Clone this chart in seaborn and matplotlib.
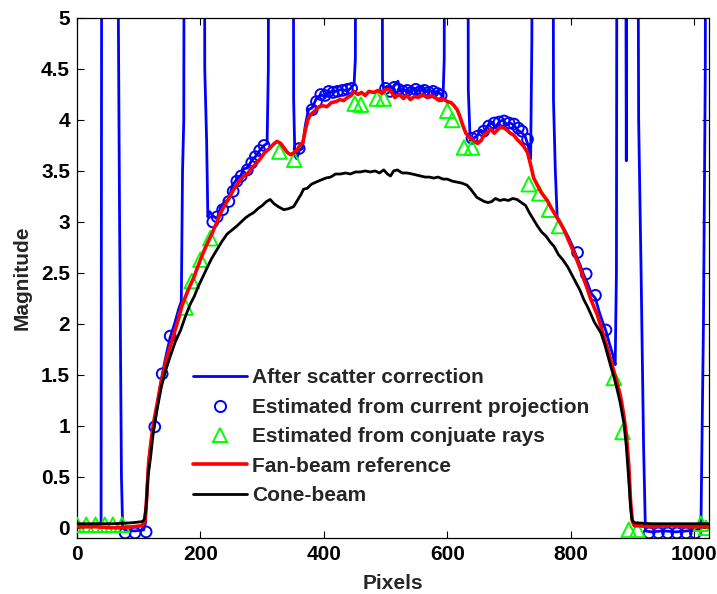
import numpy as np
import pandas as pd
import matplotlib
matplotlib.use("Agg")
import matplotlib.pyplot as plt
from matplotlib.lines import Line2D
from matplotlib.ticker import FuncFormatter, MultipleLocator
import seaborn as sns

# ---------------- data ----------------
OFF = 12.0  # values beyond the top of the axis (clipped spikes)

scatter_x = [0, 20, 36, 39, 41, 64, 66, 69, 72, 74, 80, 95, 108, 111, 113, 116, 120,
             126, 132, 138, 144, 151, 158, 165, 169, 171, 173, 175, 205, 207, 210,
             212, 215, 220, 227, 233, 240, 246, 252, 259, 265, 270, 276, 283, 289,
             296, 303, 308, 310, 312, 349, 351, 353, 356, 360, 365, 370, 375, 381,
             387, 395, 402, 408, 415, 422, 430, 438, 445, 449, 451, 453, 493, 495,
             497, 502, 508, 515, 520, 524, 530, 537, 543, 550, 557, 563, 570, 577,
             584, 590, 593, 595, 597, 632, 634, 637, 642, 648, 654, 660, 666, 672,
             678, 684, 690, 696, 702, 708, 714, 720, 726, 731, 735, 737, 739, 770,
             772, 775, 778, 784, 790, 797, 803, 808, 815, 821, 827, 833, 840, 846,
             851, 857, 863, 868, 872, 874, 876, 887, 890, 893, 906, 910, 914, 918,
             921, 930, 950, 970, 990, 1008, 1011, 1015, 1018, 1020, 1024]
scatter_y = [0.03, 0.03, 0.04, 0.05, OFF, OFF, 6.0, 3.0, 0.5, 0.0, -0.03, -0.03, -0.02,
             0.05, 0.35, 0.65, 0.85, 1.02, 1.28, 1.50, 1.68, 1.87, 2.00, 2.15, 2.22,
             3.50, 4.00, OFF, OFF, 4.50, 3.80, 3.05, 3.10, 3.06, 3.03, 3.15, 3.20,
             3.22, 3.36, 3.42, 3.45, 3.52, 3.53, 3.60, 3.64, 3.70, 3.75, 3.77, 4.50,
             OFF, OFF, 4.20, 3.65, 3.62, 3.70, 3.72, 3.95, 4.10, 4.12, 4.20, 4.25,
             4.22, 4.28, 4.27, 4.29, 4.30, 4.28, 4.32, 4.35, 4.60, OFF, OFF, 4.40,
             4.30, 4.33, 4.28, 4.35, 4.38, 4.28, 4.30, 4.26, 4.31, 4.28, 4.33, 4.27,
             4.30, 4.27, 4.28, 4.25, 4.22, 4.60, OFF, OFF, 4.30, 3.80, 3.82, 3.84,
             3.90, 3.88, 3.95, 3.97, 3.93, 3.98, 4.00, 3.96, 3.97, 3.95, 3.90, 3.88,
             3.84, 3.75, 3.62, 4.80, OFF, OFF, 4.20, 3.50, 3.05, 2.98, 2.92, 2.84,
             2.76, 2.68, 2.58, 2.48, 2.40, 2.30, 2.25, 2.12, 2.03, 1.93, 1.80, 1.70,
             1.60, 2.50, OFF, OFF, 3.60, OFF, OFF, 4.00, 2.50, 0.80, -0.03, -0.04,
             -0.03, -0.04, -0.03, -0.02, 0.05, 2.00, 4.50, OFF, OFF]

current_x = [78, 94, 112, 126, 138, 151, 220, 227, 236, 246, 253, 259, 266, 276, 283,
             289, 296, 303, 360, 381, 388, 395, 402, 408, 415, 422, 430, 438, 445,
             500, 507, 514, 521, 528, 535, 542, 549, 556, 563, 570, 577, 584, 590,
             640, 649, 659, 667, 676, 684, 692, 700, 708, 715, 721, 730, 811, 825,
             840, 857, 927, 942, 957, 972, 987, 1002]
current_y = [-0.05, -0.05, -0.04, 0.99, 1.51, 1.88, 3.00, 3.05, 3.12, 3.20, 3.30, 3.40,
             3.45, 3.51, 3.58, 3.64, 3.70, 3.75, 3.72, 4.10, 4.18, 4.25, 4.24, 4.28,
             4.27, 4.28, 4.29, 4.30, 4.31, 4.31, 4.28, 4.32, 4.30, 4.28, 4.29, 4.27,
             4.30, 4.28, 4.29, 4.27, 4.28, 4.26, 4.24, 3.82, 3.84, 3.89, 3.94, 3.97,
             3.98, 3.99, 3.97, 3.96, 3.92, 3.89, 3.81, 2.70, 2.49, 2.28, 1.94, -0.05,
             -0.05, -0.05, -0.05, -0.05, -0.05]

conj_x = [0, 15, 30, 45, 58, 73, 176, 186, 200, 216, 328, 352, 450, 460, 486, 497,
          600, 608, 627, 640, 732, 749, 765, 781, 870, 884, 894, 908, 1011, 1019]
conj_y = [0.03, 0.03, 0.03, 0.03, 0.03, 0.03, 2.16, 2.42, 2.63, 2.84, 3.69, 3.61,
          4.16, 4.15, 4.21, 4.21, 4.09, 4.00, 3.73, 3.73, 3.37, 3.28, 3.12, 2.96,
          1.47, 0.94, -0.02, -0.02, 0.04, 0.00]

fan_x = [0, 30, 60, 90, 105, 110, 113, 116, 120, 124, 130, 135, 141, 146, 152, 159,
         165, 170, 176, 182, 189, 195, 200, 206, 212, 219, 226, 232, 238, 245, 254,
         262, 270, 276, 283, 290, 297, 304, 312, 318, 324, 330, 336, 341, 346, 352,
         357, 362, 366, 370, 374, 378, 384, 390, 397, 405, 412, 420, 426, 432, 438,
         444, 449, 455, 461, 467, 473, 481, 488, 494, 500, 508, 515, 522, 529, 535,
         540, 547, 553, 560, 567, 573, 580, 587, 593, 600, 606, 611, 616, 620, 625,
         630, 636, 642, 649, 655, 660, 665, 670, 676, 681, 686, 692, 697, 702, 708,
         713, 718, 724, 730, 735, 740, 746, 752, 757, 762, 768, 774, 779, 784, 790,
         795, 800, 805, 811, 816, 821, 826, 832, 838, 843, 848, 854, 860, 865, 870,
         876, 881, 886, 890, 894, 897, 900, 903, 910, 930, 960, 990, 1024]
fan_y = [0.01, 0.01, 0.00, 0.01, 0.02, 0.06, 0.30, 0.63, 0.85, 1.03, 1.22, 1.39,
         1.55, 1.68, 1.80, 1.94, 2.06, 2.18, 2.27, 2.36, 2.45, 2.55, 2.63, 2.72,
         2.80, 2.89, 2.99, 3.08, 3.15, 3.22, 3.32, 3.39, 3.45, 3.47, 3.53, 3.57,
         3.62, 3.68, 3.72, 3.76, 3.79, 3.77, 3.72, 3.68, 3.66, 3.68, 3.71, 3.76,
         3.78, 3.90, 4.00, 4.05, 4.08, 4.12, 4.14, 4.13, 4.17, 4.18, 4.20, 4.19,
         4.22, 4.24, 4.28, 4.25, 4.27, 4.24, 4.28, 4.27, 4.29, 4.26, 4.30, 4.29,
         4.22, 4.25, 4.21, 4.24, 4.20, 4.23, 4.22, 4.25, 4.22, 4.24, 4.22, 4.19,
         4.21, 4.18, 4.17, 4.14, 4.10, 4.04, 3.95, 3.87, 3.83, 3.80, 3.77, 3.80,
         3.86, 3.88, 3.91, 3.87, 3.90, 3.93, 3.92, 3.90, 3.87, 3.85, 3.81, 3.78,
         3.74, 3.68, 3.56, 3.43, 3.36, 3.29, 3.25, 3.21, 3.14, 3.08, 3.03, 2.98,
         2.91, 2.84, 2.77, 2.70, 2.61, 2.53, 2.44, 2.36, 2.25, 2.16, 2.09, 1.99,
         1.87, 1.75, 1.64, 1.53, 1.40, 1.28, 1.10, 0.92, 0.62, 0.25, 0.06, 0.02,
         0.02, 0.01, 0.02, 0.01, 0.01]

cone_x = [0, 30, 60, 90, 105, 109, 112, 115, 119, 123, 126, 131, 137, 144, 151, 159,
          168, 176, 184, 190, 196, 203, 210, 218, 227, 235, 243, 251, 259, 266, 273,
          280, 286, 293, 300, 307, 313, 319, 326, 335, 343, 351, 358, 363, 367, 373,
          380, 387, 395, 403, 411, 419, 427, 435, 443, 451, 459, 467, 475, 483, 490,
          497, 503, 508, 513, 519, 527, 535, 543, 550, 557, 564, 571, 578, 585, 593,
          600, 608, 616, 624, 632, 638, 643, 648, 654, 660, 666, 672, 678, 685, 692,
          699, 706, 713, 720, 727, 733, 739, 746, 753, 760, 767, 773, 780, 787, 795,
          801, 808, 815, 821, 827, 833, 838, 844, 849, 855, 860, 865, 870, 875, 880,
          886, 890, 894, 897, 899, 903, 930, 960, 990, 1024]
cone_y = [0.04, 0.04, 0.04, 0.05, 0.06, 0.08, 0.20, 0.50, 0.68, 0.90, 1.03, 1.20,
          1.39, 1.55, 1.68, 1.82, 1.94, 2.08, 2.20, 2.27, 2.36, 2.45, 2.54, 2.64,
          2.73, 2.81, 2.88, 2.92, 2.96, 3.00, 3.04, 3.07, 3.09, 3.13, 3.16, 3.20,
          3.22, 3.18, 3.15, 3.12, 3.13, 3.15, 3.22, 3.27, 3.32, 3.33, 3.37, 3.39,
          3.41, 3.43, 3.44, 3.47, 3.47, 3.48, 3.47, 3.49, 3.49, 3.50, 3.49, 3.50,
          3.48, 3.51, 3.47, 3.45, 3.50, 3.51, 3.48, 3.48, 3.47, 3.46, 3.45, 3.44,
          3.44, 3.43, 3.44, 3.42, 3.42, 3.40, 3.39, 3.38, 3.36, 3.32, 3.28, 3.24,
          3.22, 3.20, 3.19, 3.20, 3.23, 3.21, 3.22, 3.21, 3.23, 3.22, 3.19, 3.16,
          3.09, 3.03, 2.96, 2.90, 2.86, 2.80, 2.76, 2.68, 2.63, 2.56, 2.49, 2.41,
          2.33, 2.24, 2.17, 2.09, 2.02, 1.96, 1.91, 1.80, 1.69, 1.58, 1.48, 1.36,
          1.23, 1.03, 0.80, 0.47, 0.20, 0.08, 0.05, 0.04, 0.04, 0.04, 0.04]

labels = ["After scatter correction", "Estimated from current projection",
          "Estimated from conjuate rays", "Fan-beam reference", "Cone-beam"]
x_ticks = [0, 200, 400, 600, 800, 1000]

# ---------------- styling ----------------
sns.set_style("ticks")
plt.rcParams["font.family"] = ["Liberation Sans", "DejaVu Sans"]
plt.rcParams["font.weight"] = "bold"
FS = 15

fig = plt.figure(figsize=(7.17, 5.94), dpi=100)
ax = fig.add_axes([77 / 717, 56 / 594, 632 / 717, 520 / 594])

BLUE, GREEN, RED = "#0000ff", "#00ff00", "#ff0000"

sns.lineplot(x=scatter_x, y=scatter_y, ax=ax, color=BLUE, lw=2.0,
             sort=False, estimator=None, zorder=2)
sns.scatterplot(x=current_x, y=current_y, ax=ax, marker="o", s=60,
                facecolors="none", edgecolors=BLUE, linewidths=1.4, zorder=3)
sns.scatterplot(x=conj_x, y=conj_y, ax=ax, marker="^", s=110,
                facecolors="none", edgecolors=GREEN, linewidths=1.4, zorder=4)
sns.lineplot(x=fan_x, y=fan_y, ax=ax, color=RED, lw=2.6,
             sort=False, estimator=None, zorder=5)
sns.lineplot(x=cone_x, y=cone_y, ax=ax, color="black", lw=2.0,
             sort=False, estimator=None, zorder=6)

ax.set_xlim(0, 1024)
ax.set_ylim(-0.1, 5)
ax.set_xticks(x_ticks)
ax.yaxis.set_major_locator(MultipleLocator(0.5))
ax.yaxis.set_major_formatter(FuncFormatter(lambda v, p: f"{v:g}"))
ax.tick_params(direction="in", length=5, width=0.8, top=True, right=True,
               labelsize=FS, pad=5, colors="black")
for lab in ax.get_xticklabels() + ax.get_yticklabels():
    lab.set_fontweight("bold")
for sp in ax.spines.values():
    sp.set_visible(True)
    sp.set_linewidth(0.9)
    sp.set_color("black")

ax.set_xlabel("Pixels", fontsize=FS, fontweight="bold", labelpad=7)
ax.set_ylabel("Magnitude", fontsize=FS, fontweight="bold", labelpad=7)

handles = [
    Line2D([], [], color=BLUE, lw=2.0),
    Line2D([], [], color=BLUE, marker="o", ls="none", mfc="none", ms=8, mew=1.4),
    Line2D([], [], color=GREEN, marker="^", ls="none", mfc="none", ms=10, mew=1.4),
    Line2D([], [], color=RED, lw=2.6),
    Line2D([], [], color="black", lw=2.0),
]
leg = ax.legend(handles, labels, loc="upper left", bbox_to_anchor=(0.1835, 0.326),
                frameon=False, fontsize=FS, handlelength=2.6, handletextpad=0.25,
                labelspacing=0.5, borderpad=0, borderaxespad=0)
for t in leg.get_texts():
    t.set_fontweight("bold")

fig.savefig("out.png", dpi=100)
